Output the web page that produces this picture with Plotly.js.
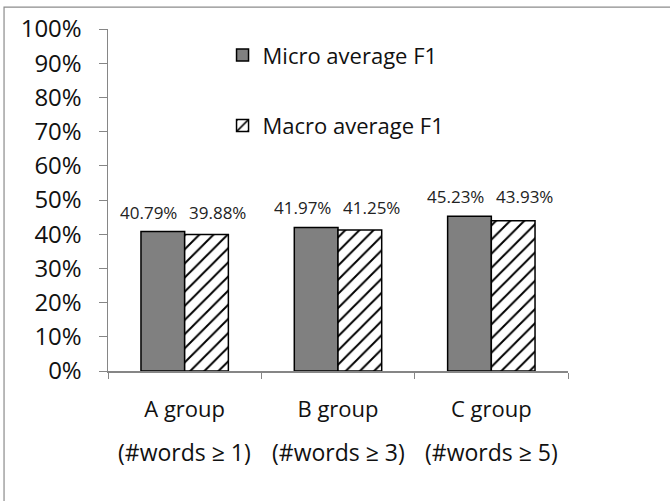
<!DOCTYPE html>
<html>
<head>
<meta charset="utf-8">
<script src="https://cdn.plot.ly/plotly-3.0.1.min.js"></script>
<style>html,body{margin:0;padding:0;background:#fff;}#chart{width:670px;height:501px;}</style>
</head>
<body>
<div id="chart"></div>
<script>
const categories = ["A", "B", "C"];
const groupNames = ["A group", "B group", "C group"];
const groupNotes = ["(#words \u2265 1)", "(#words \u2265 3)", "(#words \u2265 5)"];
const microF1 = [0.4079, 0.4197, 0.4523];
const macroF1 = [0.3988, 0.4125, 0.4393];
const yTickVals = [0, 0.1, 0.2, 0.3, 0.4, 0.5, 0.6, 0.7, 0.8, 0.9, 1.0];
const yTickText = ["0%", "10%", "20%", "30%", "40%", "50%", "60%", "70%", "80%", "90%", "100%"];

const FONT = "'Open Sans', 'Noto Sans', sans-serif";
const pct = v => (v * 100).toFixed(2) + "%";

const traces = [
  {
    type: "bar", name: "Micro average F1", x: categories, y: microF1,
    legendgroup: "micro",
    marker: {color: "#808080", line: {color: "#000", width: 1.5}},
    hoverinfo: "skip"
  },
  {
    type: "bar", name: "Macro average F1", x: categories, y: macroF1,
    legendgroup: "macro",
    marker: {color: "#fff", line: {color: "#000", width: 1.5},
      pattern: {shape: "/", fgcolor: "#000", bgcolor: "#fff", size: 10, solidity: 0.2}},
    hoverinfo: "skip"
  }
];

const annotations = [];
categories.forEach((c, i) => {
  annotations.push({
    x: c, xref: "x", y: 0, yref: "paper", yanchor: "middle", yshift: -81,
    text: groupNotes[i], showarrow: false,
    font: {size: 23, color: "#111", family: FONT}
  });
  const top = Math.max(microF1[i], macroF1[i]);
  annotations.push({
    x: c, xref: "x", y: top, yref: "y", yanchor: "bottom", yshift: 6, xshift: -36,
    text: pct(microF1[i]), showarrow: false,
    font: {size: 17, color: "#222", family: FONT}
  });
  annotations.push({
    x: c, xref: "x", y: top, yref: "y", yanchor: "bottom", yshift: 6, xshift: 33,
    text: pct(macroF1[i]), showarrow: false,
    font: {size: 17, color: "#222", family: FONT}
  });
});

const layout = {
  width: 670, height: 501,
  margin: {l: 108, r: 102, t: 29, b: 130},
  paper_bgcolor: "#fff", plot_bgcolor: "#fff",
  font: {family: FONT, color: "#111"},
  barmode: "group", bargap: 0.43, bargroupgap: 0,
  showlegend: true,
  legend: {
    x: 0.249, xanchor: "left", y: 0.985, yanchor: "top",
    bgcolor: "rgba(0,0,0,0)", font: {size: 22, color: "#111", family: FONT},
    traceorder: "grouped", tracegroupgap: 39
  },
  xaxis: {
    type: "category", tickmode: "array", tickvals: categories, ticktext: groupNames,
    tickson: "boundaries", ticks: "outside", ticklen: 6, tickcolor: "#868686",
    showline: true, linecolor: "#868686", linewidth: 1.5,
    showgrid: false, zeroline: false,
    tickfont: {size: 22, color: "#111", family: FONT},
    ticklabelstandoff: 18, fixedrange: true
  },
  yaxis: {
    range: [0, 1], tickmode: "array", tickvals: yTickVals, ticktext: yTickText,
    ticks: "outside", ticklen: 8, tickcolor: "#868686",
    showline: true, linecolor: "#868686", linewidth: 1.5,
    showgrid: false, zeroline: false,
    tickfont: {size: 24, color: "#111", family: FONT},
    ticklabelstandoff: 12, fixedrange: true
  },
  shapes: [{
    type: "rect", xref: "paper", yref: "paper",
    x0: -0.226, x1: 1.4, y0: -0.6, y1: 1.064,
    line: {color: "#8c8c8c", width: 1.2}, fillcolor: "rgba(0,0,0,0)", layer: "below"
  }],
  annotations: annotations
};

Plotly.newPlot("chart", traces, layout, {displayModeBar: false, staticPlot: true});
</script>
</body>
</html>
